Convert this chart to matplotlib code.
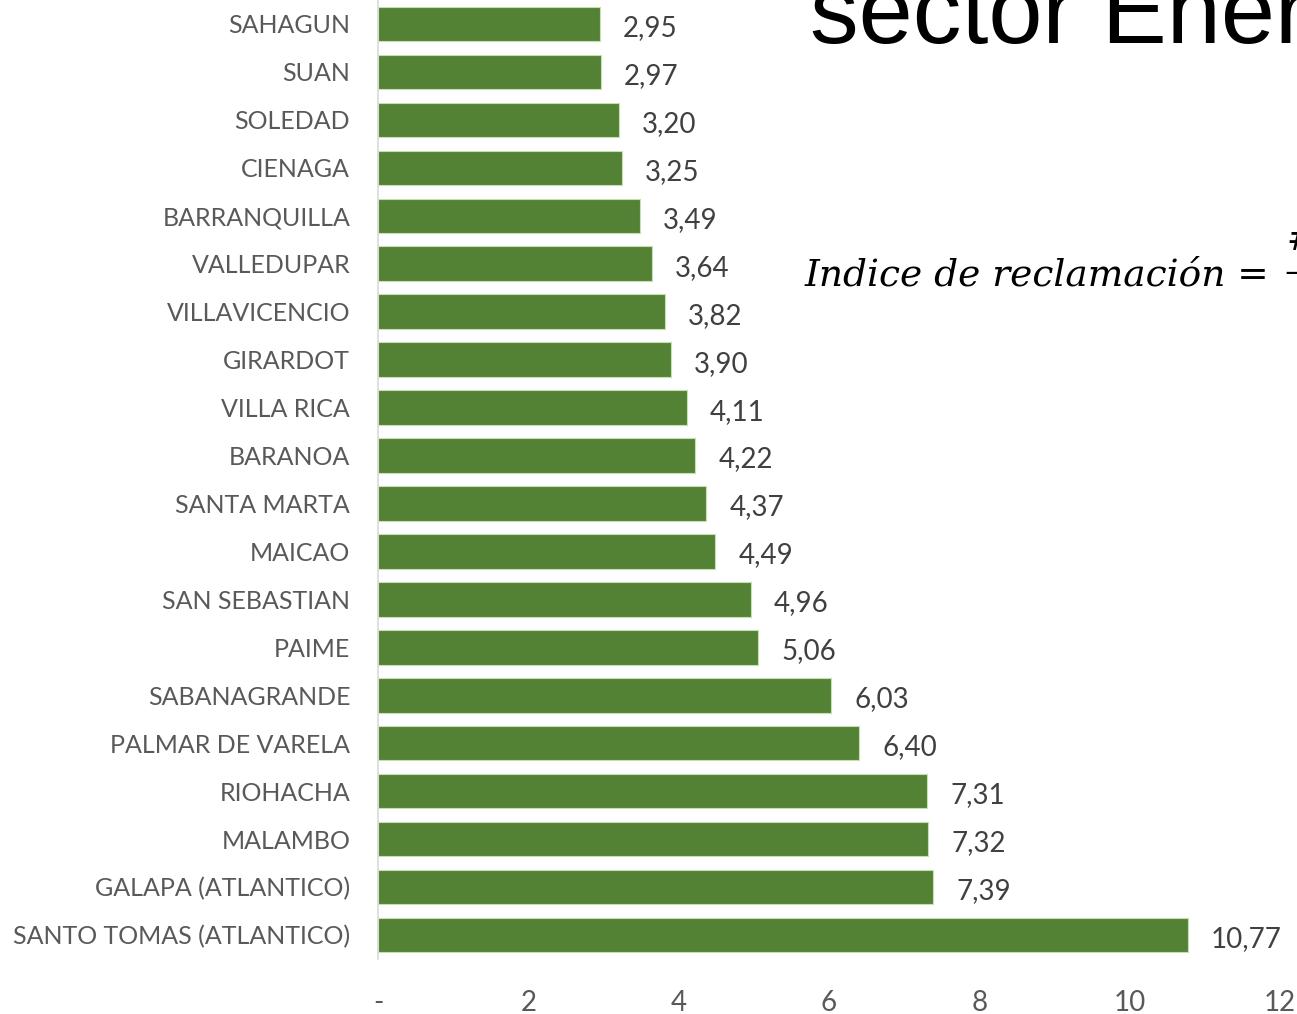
import matplotlib.pyplot as plt
import numpy as np

# municipios, de arriba hacia abajo
municipios = ['SAHAGUN', 'SUAN', 'SOLEDAD', 'CIENAGA', 'BARRANQUILLA', 'VALLEDUPAR',
              'VILLAVICENCIO', 'GIRARDOT', 'VILLA RICA', 'BARANOA', 'SANTA MARTA',
              'MAICAO', 'SAN SEBASTIAN', 'PAIME', 'SABANAGRANDE', 'PALMAR DE VARELA',
              'RIOHACHA', 'MALAMBO', 'GALAPA (ATLANTICO)', 'SANTO TOMAS (ATLANTICO)']
indices = [2.95, 2.97, 3.20, 3.25, 3.49, 3.64, 3.82, 3.90, 4.11, 4.22, 4.37,
           4.49, 4.96, 5.06, 6.03, 6.40, 7.31, 7.32, 7.39, 10.77]
xticks = [0, 2, 4, 6, 8, 10, 12]
xtick_labels = ['-', '2', '4', '6', '8', '10', '12']

W, H = 1297, 1014
fig = plt.figure(figsize=(W / 100, H / 100), dpi=100)
ax = fig.add_axes([378 / W, 1 - 959 / H, (1280 - 378) / W, 959 / H])

gris = '#595959'
y = np.arange(len(municipios))
ax.barh(y, indices, height=0.72, color='#548235', edgecolor='#c5e0b4', linewidth=0.8)

for yi, v in zip(y, indices):
    ax.annotate(f'{v:.2f}'.replace('.', ','), (v, yi), xytext=(23, -4),
                textcoords='offset pixels', va='center', ha='left',
                fontsize=20, color='#404040', family='Lato')

ax.set_ylim(len(municipios) - 0.5, -0.5)
ax.set_xlim(0, 12)
ax.set_yticks(y)
ax.set_yticklabels(municipios, fontsize=18, color=gris, family='Lato')
ax.set_xticks(xticks)
ax.set_xticklabels(xtick_labels, fontsize=20, color=gris, family='Lato')
ax.tick_params(axis='y', length=0, pad=20)
ax.tick_params(axis='x', length=0, pad=22)
for s in ['top', 'right', 'bottom']:
    ax.spines[s].set_visible(False)
ax.spines['left'].set_color('#d9d9d9')
ax.spines['left'].set_linewidth(1.2)

# textos superpuestos de la diapositiva
fig.text(810 / W, 1 - 43 / H, 'sector Ener', fontsize=70, family='Liberation Sans',
         ha='left', va='baseline', color='black')
fig.text(805 / W, 1 - 285 / H, 'Indice de reclamación = ', fontsize=27,
         family='DejaVu Serif', style='italic', ha='left', va='baseline', color='black')
fig.text(1286 / W, 1 - 250 / H, '#', fontsize=24, family='DejaVu Serif',
         ha='left', va='baseline', color='black')
fig.text(1284 / W, 1 - 283 / H, '–', fontsize=27, family='DejaVu Serif',
         ha='left', va='baseline', color='black')

fig.savefig('out.png', dpi=100)
